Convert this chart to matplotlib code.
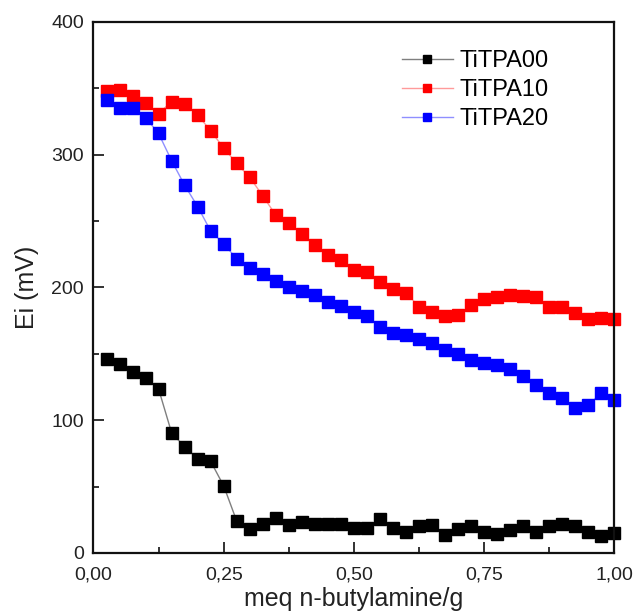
import numpy as np
import matplotlib.pyplot as plt
from matplotlib.ticker import MultipleLocator, FuncFormatter

plt.rcParams['font.family'] = ['Liberation Sans', 'DejaVu Sans']

# x positions (meq n-butylamine/g)
x = np.arange(1, 41) * 0.025

# Ei (mV)
ti00 = [146, 142, 136.5, 132, 123.5, 90.5, 80, 71, 69, 50.5,
        24, 18, 21.5, 26.5, 21, 23, 22, 22, 22, 18.5,
        18.5, 25.5, 19, 16, 20, 21, 13.5, 18, 20, 16,
        14, 17, 20, 16, 20, 22, 20, 15.5, 13, 15]
ti10 = [348, 349, 344, 339, 331, 340, 338.5, 330, 318, 305,
        293.5, 283, 269, 254.5, 248.5, 240.5, 232, 224.5, 221, 213,
        211.5, 204.5, 199, 196, 185.5, 181.5, 178.5, 179, 186.5, 191.5,
        193, 194, 193.5, 193, 185, 185, 180.5, 176.5, 177, 176.5]
ti20 = [341.5, 335.5, 335.5, 328, 316, 295.5, 277, 261, 242.5, 233,
        221.5, 214.5, 210.5, 205, 200, 197, 194, 189, 186, 181.5,
        178.5, 170.5, 165.5, 164.5, 161.5, 158.5, 153, 150, 145.5, 143,
        141.5, 138.5, 133.5, 126.5, 120.5, 116.5, 109, 111.5, 120.5, 115]

labels = ['TiTPA00', 'TiTPA10', 'TiTPA20']
marker_colors = ['black', 'red', 'blue']
line_colors = ['#7f7f7f', '#ff9a9a', '#8f8fff']

fig = plt.figure(figsize=(6.36, 6.11), dpi=100)
ax = fig.add_axes([0.147, 0.095, 0.819, 0.869])

for y, lab, mc, lc in zip([ti00, ti10, ti20], labels, marker_colors, line_colors):
    ax.plot(x, y, color=lc, linewidth=1.0, marker='s', markersize=8.5,
            markerfacecolor=mc, markeredgecolor=mc, label=lab, clip_on=False)

ax.set_xlim(0, 1.0)
ax.set_ylim(0, 400)
ax.xaxis.set_major_locator(MultipleLocator(0.25))
ax.xaxis.set_minor_locator(MultipleLocator(0.125))
ax.yaxis.set_major_locator(MultipleLocator(100))
ax.yaxis.set_minor_locator(MultipleLocator(50))
ax.xaxis.set_major_formatter(FuncFormatter(lambda v, p: f'{v:.2f}'.replace('.', ',')))
ax.tick_params(which='both', direction='in', width=1.3, labelsize=14, colors='#222222')
ax.tick_params(which='major', length=8)
ax.tick_params(which='minor', length=4.5)
ax.tick_params(axis='x', which='major', pad=10)
ax.tick_params(axis='y', which='major', pad=7)
for s in ax.spines.values():
    s.set_linewidth(1.6)
    s.set_color('#111111')

ax.set_xlabel('meq n-butylamine/g', fontsize=18, labelpad=2, color='#222222')
ax.set_ylabel('Ei (mV)', fontsize=18, labelpad=9, color='#222222')

ax.legend(loc='upper left', bbox_to_anchor=(0.5925, 0.947), frameon=False, fontsize=17,
          borderaxespad=0, borderpad=0, handlelength=2.15, handletextpad=0.3,
          labelspacing=0.3, markerscale=0.6)

fig.savefig('out.png', dpi=100)
